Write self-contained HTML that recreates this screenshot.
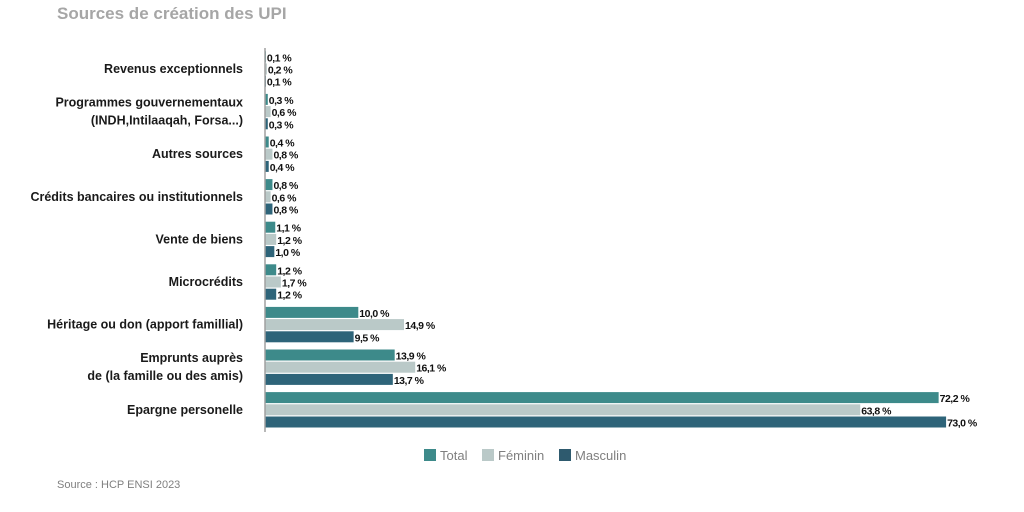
<!DOCTYPE html>
<html><head><meta charset="utf-8"><style>
body{margin:0;background:#fff;width:1024px;height:507px;overflow:hidden;font-family:"Liberation Sans",sans-serif}
svg text{font-family:"Liberation Sans",sans-serif}
</style></head><body>
<svg width="1024" height="507">
<text x="57" y="19" font-size="17" font-weight="bold" fill="#a6a6a6">Sources de création des UPI</text>
<g id="bars"></g>
<line x1="265" y1="48" x2="265" y2="432" stroke="#a0a0a0" stroke-width="1.5"/>
<g font-size="13" fill="#7f7f7f">
<rect x="424" y="449" width="12" height="12" fill="#3d8a8a"/>
<text x="440" y="460">Total</text>
<rect x="482" y="449" width="12" height="12" fill="#bac9c8"/>
<text x="498" y="460">Féminin</text>
<rect x="559" y="449" width="12" height="12" fill="#2e5a6e"/>
<text x="575" y="460">Masculin</text>
</g>
<text x="57" y="488" font-size="11" fill="#7f7f7f">Source : HCP ENSI 2023</text>
</svg>
<script>
const categories=[["Revenus exceptionnels"],["Programmes gouvernementaux","(INDH,Intilaaqah,  Forsa...)"],["Autres sources"],["Crédits bancaires ou institutionnels"],["Vente de biens"],["Microcrédits"],["Héritage ou don (apport famillial)"],["Emprunts auprès","de (la famille ou des amis)"],["Epargne personelle"]];
const totalVals=[0.1,0.3,0.4,0.8,1.1,1.2,10.0,13.9,72.2];
const femininVals=[0.2,0.6,0.8,0.6,1.2,1.7,14.9,16.1,63.8];
const masculinVals=[0.1,0.3,0.4,0.8,1.0,1.2,9.5,13.7,73.0];
const series=[totalVals,femininVals,masculinVals];
const colors=["#3d8a8a","#bac9c8","#2e6479"];
const names=["total","feminin","masculin"];
const x0=265,pxPer=9.33;
const xs=v=>x0+v*pxPer;
const yc=i=>69+i*42.6;
const ns="http://www.w3.org/2000/svg";
const g=document.getElementById('bars');
function mk(t){return document.createElementNS(ns,t);}
categories.forEach((c,i)=>{
  const cy=yc(i);
  const lt=mk('text');
  
  
  lt.setAttribute('text-anchor','end');lt.setAttribute('font-size','12.5');lt.setAttribute('font-weight','bold');lt.setAttribute('fill','#1a1a1a');
  c.forEach((line,k)=>{const ts=mk('tspan');ts.setAttribute('x',243);ts.setAttribute('y',cy+4+(k-(c.length-1)/2)*18);ts.textContent=line;lt.appendChild(ts);});
  g.appendChild(lt);
  series.forEach((s,j)=>{
    const by=cy+(j-1)*12.2-5.5;
    const r=mk('rect');
    
    
    r.setAttribute('x',x0);r.setAttribute('y',by);r.setAttribute('width',Math.max(0,xs(s[i])-x0));r.setAttribute('height',11);r.setAttribute('fill',colors[j]);
    g.appendChild(r);
    const t=mk('text');
    
    
    t.setAttribute('x',xs(s[i])+1);t.setAttribute('y',by+10);t.setAttribute('font-size','10.5');t.setAttribute('font-weight','bold');t.setAttribute('fill','#111');t.setAttribute('letter-spacing','-0.5');
    t.textContent=s[i].toFixed(1).replace('.',',')+' %';
    g.appendChild(t);
  });
});
</script>
</body></html>
